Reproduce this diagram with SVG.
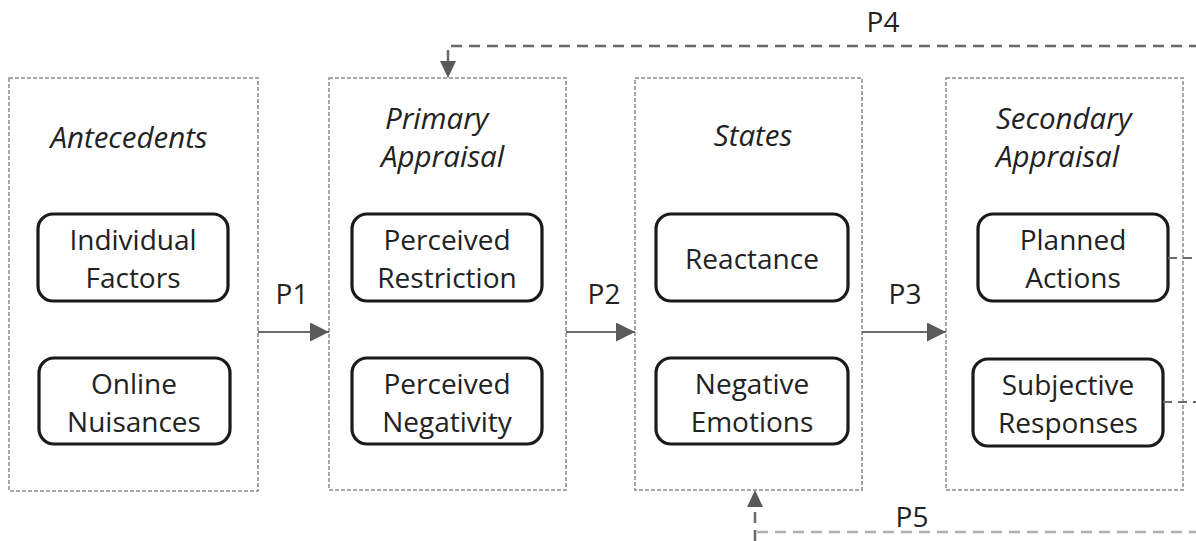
<svg xmlns="http://www.w3.org/2000/svg" width="1196" height="541" viewBox="0 0 1196 541">
  <style>
    .stage { fill: none; stroke: #8a8a8a; stroke-width: 1.5; stroke-dasharray: 4 2; }
    .node { fill: #fff; stroke: #1a1a1a; stroke-width: 3.2; }
    .title { font-family: "Open Sans", "Noto Sans", sans-serif; font-style: italic; font-size: 29.5px; fill: #222; }
    .label { font-family: "Open Sans", "Noto Sans", sans-serif; font-size: 28px; fill: #222; text-anchor: middle; }
    .flow { fill: none; stroke: #6a6a6a; stroke-width: 2; }
    .loop { fill: none; stroke: #6a6a6a; stroke-width: 2.5; stroke-dasharray: 11 7; }
    .loop-faint { fill: none; stroke: #b0b0b0; stroke-width: 2.5; stroke-dasharray: 11 7; }
    .stub { fill: none; stroke: #6a6a6a; stroke-width: 2; stroke-dasharray: 9 6; }
  </style>
  <defs>
    <marker id="headBig" viewBox="0 0 10 10" refX="10" refY="5" markerWidth="19" markerHeight="19" markerUnits="userSpaceOnUse" orient="auto">
      <path d="M0,0 L10,5 L0,10 Z" fill="#5a5a5a"/>
    </marker>
  </defs>

  <g id="antecedents">
    <rect class="stage" x="9" y="78" width="249" height="413"/>
    <text class="title" x="129" y="148" text-anchor="middle">Antecedents</text>
    <g id="individual-factors">
      <rect class="node" x="38" y="214" width="190" height="87" rx="15"/>
      <text class="label" x="133" y="250">Individual</text>
      <text class="label" x="133" y="288">Factors</text>
    </g>
    <g id="online-nuisances">
      <rect class="node" x="39" y="358" width="191" height="86" rx="15"/>
      <text class="label" x="134" y="394">Online</text>
      <text class="label" x="134" y="432">Nuisances</text>
    </g>
  </g>

  <g id="primary-appraisal">
    <rect class="stage" x="329" y="78" width="237" height="412"/>
    <text class="title" x="385" y="129">Primary</text>
    <text class="title" x="381" y="167">Appraisal</text>
    <g id="perceived-restriction">
      <rect class="node" x="352" y="214" width="190" height="87" rx="15"/>
      <text class="label" x="447" y="250">Perceived</text>
      <text class="label" x="447" y="288">Restriction</text>
    </g>
    <g id="perceived-negativity">
      <rect class="node" x="352" y="358" width="190" height="86" rx="15"/>
      <text class="label" x="447" y="394">Perceived</text>
      <text class="label" x="447" y="432">Negativity</text>
    </g>
  </g>

  <g id="states">
    <rect class="stage" x="635" y="78" width="227" height="412"/>
    <text class="title" x="753" y="146" text-anchor="middle">States</text>
    <g id="reactance">
      <rect class="node" x="656" y="214" width="192" height="87" rx="15"/>
      <text class="label" x="752" y="269">Reactance</text>
    </g>
    <g id="negative-emotions">
      <rect class="node" x="656" y="358" width="192" height="86" rx="15"/>
      <text class="label" x="752" y="394">Negative</text>
      <text class="label" x="752" y="432">Emotions</text>
    </g>
  </g>

  <g id="secondary-appraisal">
    <rect class="stage" x="946" y="78" width="237" height="412"/>
    <text class="title" x="996" y="129">Secondary</text>
    <text class="title" x="996" y="167">Appraisal</text>
    <g id="planned-actions">
      <rect class="node" x="978" y="214" width="190" height="87" rx="15"/>
      <text class="label" x="1073" y="250">Planned</text>
      <text class="label" x="1073" y="288">Actions</text>
    </g>
    <g id="subjective-responses">
      <rect class="node" x="973" y="359" width="190" height="87" rx="15"/>
      <text class="label" x="1068" y="395">Subjective</text>
      <text class="label" x="1068" y="433">Responses</text>
    </g>
  </g>

  <g id="connectors">
    <!-- forward propositions -->
    <path class="flow" d="M258,332 H329" marker-end="url(#headBig)"/>
    <path class="flow" d="M566,332 H635" marker-end="url(#headBig)"/>
    <path class="flow" d="M862,332 H946" marker-end="url(#headBig)"/>
    <text class="label" x="292" y="304">P1</text>
    <text class="label" x="604" y="304">P2</text>
    <text class="label" x="905" y="304">P3</text>

    <!-- feedback loops leaving the secondary appraisal -->
    <path class="stub" d="M1168,258 H1196"/>
    <path class="stub" d="M1163,402 H1196"/>

    <!-- P4: back to primary appraisal -->
    <path class="loop" d="M1200,46 H448 V61"/>
    <path d="M440,61 L456,61 L448,78 Z" fill="#5a5a5a"/>
    <text class="label" x="883" y="32">P4</text>

    <!-- P5: back to states -->
    <path class="loop-faint" d="M1200,532 H757"/>
    <path class="loop" d="M755,541 V507" stroke-dasharray="11 6"/>
    <path d="M747,507 L763,507 L755,490 Z" fill="#5a5a5a"/>
    <text class="label" x="912" y="527">P5</text>
  </g>
</svg>
